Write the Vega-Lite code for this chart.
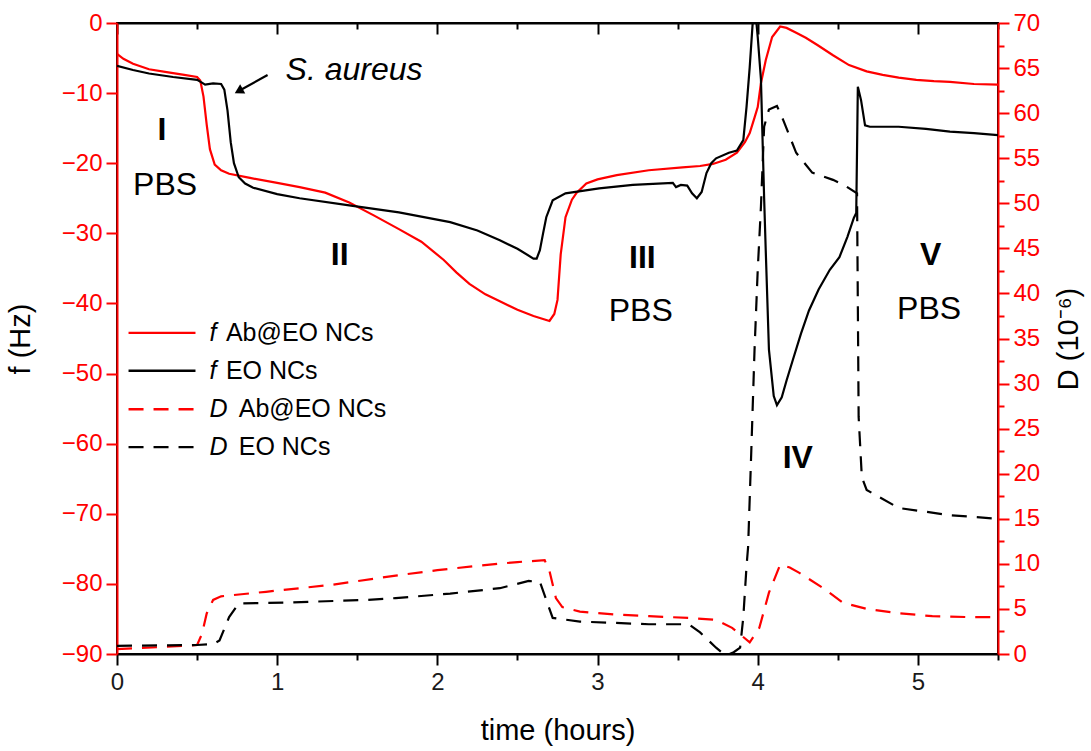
{
  "$schema": "https://vega.github.io/schema/vega-lite/v6.json",
  "width": 881,
  "height": 631,
  "autosize": {"type": "none"},
  "padding": {"left": 117, "top": 23, "right": 93, "bottom": 97},
  "config": {
    "view": {"stroke": "black", "strokeWidth": 2},
    "font": "Liberation Sans",
    "axis": {"labelFont": "Liberation Sans", "titleFont": "Liberation Sans", "grid": false, "ticks": true, "tickOpacity": 1, "labelOverlap": false, "labelFlush": false, "titleFontWeight": "normal"}
  },
  "datasets": {
    "fdata": [
      {"t":0,"f":-4.4,"s":"Ab"},{"t":0.04,"f":-5.1,"s":"Ab"},{"t":0.1,"f":-5.8,"s":"Ab"},{"t":0.2,"f":-6.6,"s":"Ab"},{"t":0.31,"f":-7.0,"s":"Ab"},{"t":0.42,"f":-7.4,"s":"Ab"},{"t":0.5,"f":-7.7,"s":"Ab"},{"t":0.52,"f":-8.2,"s":"Ab"},{"t":0.54,"f":-10.5,"s":"Ab"},{"t":0.56,"f":-14.5,"s":"Ab"},{"t":0.58,"f":-18,"s":"Ab"},{"t":0.61,"f":-20.2,"s":"Ab"},{"t":0.65,"f":-21,"s":"Ab"},{"t":0.7,"f":-21.5,"s":"Ab"},{"t":0.83,"f":-22.1,"s":"Ab"},{"t":1.0,"f":-22.8,"s":"Ab"},{"t":1.14,"f":-23.4,"s":"Ab"},{"t":1.3,"f":-24.2,"s":"Ab"},{"t":1.45,"f":-25.6,"s":"Ab"},{"t":1.6,"f":-27.4,"s":"Ab"},{"t":1.76,"f":-29.4,"s":"Ab"},{"t":1.9,"f":-31.2,"s":"Ab"},{"t":2.04,"f":-33.8,"s":"Ab"},{"t":2.12,"f":-35.6,"s":"Ab"},{"t":2.2,"f":-37.2,"s":"Ab"},{"t":2.3,"f":-38.7,"s":"Ab"},{"t":2.39,"f":-39.7,"s":"Ab"},{"t":2.5,"f":-40.9,"s":"Ab"},{"t":2.6,"f":-41.8,"s":"Ab"},{"t":2.7,"f":-42.5,"s":"Ab"},{"t":2.73,"f":-41.5,"s":"Ab"},{"t":2.75,"f":-39.5,"s":"Ab"},{"t":2.77,"f":-33,"s":"Ab"},{"t":2.8,"f":-27.7,"s":"Ab"},{"t":2.84,"f":-25.2,"s":"Ab"},{"t":2.87,"f":-24.2,"s":"Ab"},{"t":2.93,"f":-22.9,"s":"Ab"},{"t":3.0,"f":-22.3,"s":"Ab"},{"t":3.12,"f":-21.7,"s":"Ab"},{"t":3.32,"f":-21.0,"s":"Ab"},{"t":3.53,"f":-20.6,"s":"Ab"},{"t":3.64,"f":-20.4,"s":"Ab"},{"t":3.72,"f":-20.1,"s":"Ab"},{"t":3.8,"f":-19.5,"s":"Ab"},{"t":3.87,"f":-18.5,"s":"Ab"},{"t":3.92,"f":-17,"s":"Ab"},{"t":3.95,"f":-15.7,"s":"Ab"},{"t":3.98,"f":-13.5,"s":"Ab"},{"t":4.0,"f":-12.0,"s":"Ab"},{"t":4.02,"f":-8.6,"s":"Ab"},{"t":4.05,"f":-5.3,"s":"Ab"},{"t":4.09,"f":-2,"s":"Ab"},{"t":4.14,"f":-0.5,"s":"Ab"},{"t":4.18,"f":-0.7,"s":"Ab"},{"t":4.24,"f":-1.4,"s":"Ab"},{"t":4.3,"f":-2.1,"s":"Ab"},{"t":4.37,"f":-3.1,"s":"Ab"},{"t":4.47,"f":-4.6,"s":"Ab"},{"t":4.57,"f":-6,"s":"Ab"},{"t":4.68,"f":-6.9,"s":"Ab"},{"t":4.78,"f":-7.4,"s":"Ab"},{"t":4.88,"f":-7.8,"s":"Ab"},{"t":4.99,"f":-8.1,"s":"Ab"},{"t":5.1,"f":-8.3,"s":"Ab"},{"t":5.2,"f":-8.4,"s":"Ab"},{"t":5.35,"f":-8.7,"s":"Ab"},{"t":5.5,"f":-8.8,"s":"Ab"},
      {"t":0,"f":-6.1,"s":"EO"},{"t":0.1,"f":-6.7,"s":"EO"},{"t":0.2,"f":-7.2,"s":"EO"},{"t":0.35,"f":-7.7,"s":"EO"},{"t":0.5,"f":-8.1,"s":"EO"},{"t":0.53,"f":-8.5,"s":"EO"},{"t":0.55,"f":-8.8,"s":"EO"},{"t":0.6,"f":-8.6,"s":"EO"},{"t":0.65,"f":-8.7,"s":"EO"},{"t":0.67,"f":-9.5,"s":"EO"},{"t":0.69,"f":-12.5,"s":"EO"},{"t":0.71,"f":-17,"s":"EO"},{"t":0.73,"f":-20,"s":"EO"},{"t":0.76,"f":-22,"s":"EO"},{"t":0.8,"f":-22.9,"s":"EO"},{"t":0.85,"f":-23.5,"s":"EO"},{"t":1.0,"f":-24.4,"s":"EO"},{"t":1.14,"f":-25,"s":"EO"},{"t":1.45,"f":-26,"s":"EO"},{"t":1.76,"f":-27,"s":"EO"},{"t":2.08,"f":-28.4,"s":"EO"},{"t":2.25,"f":-29.6,"s":"EO"},{"t":2.39,"f":-31,"s":"EO"},{"t":2.5,"f":-32.2,"s":"EO"},{"t":2.6,"f":-33.6,"s":"EO"},{"t":2.62,"f":-33.6,"s":"EO"},{"t":2.64,"f":-32.4,"s":"EO"},{"t":2.66,"f":-30,"s":"EO"},{"t":2.68,"f":-27.7,"s":"EO"},{"t":2.72,"f":-25.3,"s":"EO"},{"t":2.8,"f":-24.3,"s":"EO"},{"t":3.01,"f":-23.6,"s":"EO"},{"t":3.22,"f":-23.1,"s":"EO"},{"t":3.47,"f":-22.8,"s":"EO"},{"t":3.49,"f":-23.4,"s":"EO"},{"t":3.52,"f":-23.1,"s":"EO"},{"t":3.56,"f":-23.2,"s":"EO"},{"t":3.59,"f":-24.3,"s":"EO"},{"t":3.62,"f":-25,"s":"EO"},{"t":3.65,"f":-24.1,"s":"EO"},{"t":3.68,"f":-21.4,"s":"EO"},{"t":3.71,"f":-20,"s":"EO"},{"t":3.74,"f":-19.3,"s":"EO"},{"t":3.82,"f":-18.5,"s":"EO"},{"t":3.87,"f":-18.2,"s":"EO"},{"t":3.91,"f":-16.7,"s":"EO"},{"t":3.93,"f":-12,"s":"EO"},{"t":3.95,"f":-6.3,"s":"EO"},{"t":3.97,"f":0.5,"s":"EO"},{"t":3.99,"f":0.5,"s":"EO"},{"t":4.0,"f":-2,"s":"EO"},{"t":4.02,"f":-8,"s":"EO"},{"t":4.04,"f":-25,"s":"EO"},{"t":4.05,"f":-32.4,"s":"EO"},{"t":4.07,"f":-46.6,"s":"EO"},{"t":4.1,"f":-53.2,"s":"EO"},{"t":4.12,"f":-54.5,"s":"EO"},{"t":4.15,"f":-53.4,"s":"EO"},{"t":4.18,"f":-51,"s":"EO"},{"t":4.22,"f":-48,"s":"EO"},{"t":4.27,"f":-44.3,"s":"EO"},{"t":4.32,"f":-41,"s":"EO"},{"t":4.38,"f":-38,"s":"EO"},{"t":4.45,"f":-35.2,"s":"EO"},{"t":4.51,"f":-33.4,"s":"EO"},{"t":4.56,"f":-30.5,"s":"EO"},{"t":4.6,"f":-27.8,"s":"EO"},{"t":4.615,"f":-27.1,"s":"EO"},{"t":4.625,"f":-9.1,"s":"EO"},{"t":4.645,"f":-11,"s":"EO"},{"t":4.67,"f":-14.6,"s":"EO"},{"t":4.7,"f":-14.8,"s":"EO"},{"t":4.88,"f":-14.8,"s":"EO"},{"t":5.05,"f":-15.1,"s":"EO"},{"t":5.2,"f":-15.5,"s":"EO"},{"t":5.35,"f":-15.7,"s":"EO"},{"t":5.5,"f":-16,"s":"EO"}
    ],
    "ddata": [
      {"t":0,"D":0.55,"s":"Ab"},{"t":0.31,"D":0.8,"s":"Ab"},{"t":0.5,"D":1.0,"s":"Ab"},{"t":0.53,"D":2.2,"s":"Ab"},{"t":0.56,"D":4.5,"s":"Ab"},{"t":0.6,"D":6.0,"s":"Ab"},{"t":0.65,"D":6.4,"s":"Ab"},{"t":0.93,"D":6.9,"s":"Ab"},{"t":1.35,"D":7.7,"s":"Ab"},{"t":1.74,"D":8.7,"s":"Ab"},{"t":2.0,"D":9.3,"s":"Ab"},{"t":2.26,"D":9.8,"s":"Ab"},{"t":2.5,"D":10.2,"s":"Ab"},{"t":2.67,"D":10.4,"s":"Ab"},{"t":2.7,"D":9.2,"s":"Ab"},{"t":2.74,"D":6.2,"s":"Ab"},{"t":2.78,"D":5.2,"s":"Ab"},{"t":2.89,"D":4.7,"s":"Ab"},{"t":3.1,"D":4.4,"s":"Ab"},{"t":3.32,"D":4.2,"s":"Ab"},{"t":3.57,"D":4.0,"s":"Ab"},{"t":3.74,"D":3.8,"s":"Ab"},{"t":3.84,"D":2.9,"s":"Ab"},{"t":3.95,"D":1.3,"s":"Ab"},{"t":4.01,"D":2.9,"s":"Ab"},{"t":4.07,"D":6.8,"s":"Ab"},{"t":4.14,"D":9.9,"s":"Ab"},{"t":4.2,"D":9.6,"s":"Ab"},{"t":4.26,"D":9.0,"s":"Ab"},{"t":4.41,"D":7.3,"s":"Ab"},{"t":4.53,"D":5.7,"s":"Ab"},{"t":4.68,"D":5.0,"s":"Ab"},{"t":4.89,"D":4.5,"s":"Ab"},{"t":5.09,"D":4.2,"s":"Ab"},{"t":5.3,"D":4.1,"s":"Ab"},{"t":5.5,"D":4.1,"s":"Ab"},
      {"t":0,"D":0.9,"s":"EO"},{"t":0.5,"D":1.0,"s":"EO"},{"t":0.6,"D":1.1,"s":"EO"},{"t":0.64,"D":1.5,"s":"EO"},{"t":0.7,"D":4.1,"s":"EO"},{"t":0.76,"D":5.6,"s":"EO"},{"t":1.04,"D":5.7,"s":"EO"},{"t":1.56,"D":6.0,"s":"EO"},{"t":1.74,"D":6.2,"s":"EO"},{"t":2.08,"D":6.7,"s":"EO"},{"t":2.39,"D":7.3,"s":"EO"},{"t":2.57,"D":8.1,"s":"EO"},{"t":2.64,"D":8.0,"s":"EO"},{"t":2.68,"D":6.0,"s":"EO"},{"t":2.72,"D":4.0,"s":"EO"},{"t":2.89,"D":3.6,"s":"EO"},{"t":3.32,"D":3.3,"s":"EO"},{"t":3.57,"D":3.3,"s":"EO"},{"t":3.64,"D":2.4,"s":"EO"},{"t":3.74,"D":0.7,"s":"EO"},{"t":3.8,"D":-0.2,"s":"EO"},{"t":3.85,"D":0.2,"s":"EO"},{"t":3.89,"D":0.7,"s":"EO"},{"t":3.91,"D":4.1,"s":"EO"},{"t":3.93,"D":9.7,"s":"EO"},{"t":3.94,"D":11.9,"s":"EO"},{"t":3.96,"D":22.6,"s":"EO"},{"t":3.98,"D":33.7,"s":"EO"},{"t":4.0,"D":42.6,"s":"EO"},{"t":4.02,"D":49.6,"s":"EO"},{"t":4.04,"D":58.5,"s":"EO"},{"t":4.07,"D":60.4,"s":"EO"},{"t":4.12,"D":60.8,"s":"EO"},{"t":4.16,"D":59.2,"s":"EO"},{"t":4.24,"D":55.6,"s":"EO"},{"t":4.34,"D":53.4,"s":"EO"},{"t":4.47,"D":52.6,"s":"EO"},{"t":4.55,"D":51.9,"s":"EO"},{"t":4.62,"D":51.1,"s":"EO"},{"t":4.63,"D":26.3,"s":"EO"},{"t":4.65,"D":19.6,"s":"EO"},{"t":4.68,"D":18.2,"s":"EO"},{"t":4.88,"D":16.2,"s":"EO"},{"t":5.2,"D":15.4,"s":"EO"},{"t":5.5,"D":15.0,"s":"EO"}
    ],
    "notes": [
      {"t":0.28,"f":-15.3,"text":"I","kind":"num"},
      {"t":0.30,"f":-23.1,"text":"PBS","kind":"txt"},
      {"t":1.39,"f":-33.1,"text":"II","kind":"num"},
      {"t":3.28,"f":-33.5,"text":"III","kind":"num"},
      {"t":3.27,"f":-41.1,"text":"PBS","kind":"txt"},
      {"t":4.25,"f":-62,"text":"IV","kind":"num"},
      {"t":5.08,"f":-33.1,"text":"V","kind":"num"},
      {"t":5.07,"f":-40.8,"text":"PBS","kind":"txt"},
      {"t":1.48,"f":-6.7,"text":"S. aureus","kind":"ital"}
    ],
    "arrow": [
      {"t":0.94,"f":-7.42,"t2":0.76,"f2":-9.71}
    ],
    "leg": [
      {"t1":0.072,"t2":0.49,"f":-44.2,"s":"Ab","m":"f","sym":"f","lab":"Ab@EO NCs","ts":0.577,"tl":0.68},
      {"t1":0.072,"t2":0.49,"f":-49.6,"s":"EO","m":"f","sym":"f","lab":"EO NCs","ts":0.577,"tl":0.68},
      {"t1":0.072,"t2":0.49,"f":-55.1,"s":"Ab","m":"D","sym":"D","lab":"Ab@EO NCs","ts":0.577,"tl":0.76},
      {"t1":0.072,"t2":0.49,"f":-60.5,"s":"EO","m":"D","sym":"D","lab":"EO NCs","ts":0.577,"tl":0.76}
    ]
  },
  "layer": [
    {
      "layer": [
        {
          "data": {"name": "fdata"},
          "mark": {"type": "line", "strokeWidth": 2.2, "clip": true},
          "encoding": {
            "x": {"field": "t", "type": "quantitative",
              "scale": {"domain": [0, 5.5], "nice": false, "zero": false},
              "axis": {"orient": "bottom", "title": "time (hours)", "format": "~g",
                "values": [0,0.5,1,1.5,2,2.5,3,3.5,4,4.5,5,5.5],
                "labelExpr": "datum.value % 1 === 0 ? datum.label : ''",
                "ticks": true, "tickSize": 11,
                "tickDash": {"condition": {"test": "datum.value % 1 !== 0", "value": [6, 30]}, "value": [11, 0]},
                "tickColor": "black", "tickWidth": 2, "domainColor": "black", "domainWidth": 2,
                "labelFontSize": 24, "labelColor": "#1a1a1a", "labelPadding": 5,
                "titleFontSize": 29, "titleColor": "black", "titlePadding": 22}},
            "y": {"field": "f", "type": "quantitative",
              "scale": {"domain": [-90, 0], "nice": false, "zero": false},
              "axis": {"orient": "left", "title": "f (Hz)",
                "values": [-90,-85,-80,-75,-70,-65,-60,-55,-50,-45,-40,-35,-30,-25,-20,-15,-10,-5,0],
                "labelExpr": "datum.value % 10 === 0 ? datum.label : ''",
                "ticks": true, "tickSize": 11,
                "tickDash": {"condition": {"test": "datum.value % 10 !== 0", "value": [6, 30]}, "value": [11, 0]},
                "tickColor": "#ff0000", "tickWidth": 2, "domainColor": "#ff0000", "domainWidth": 2,
                "labelFontSize": 24, "labelColor": "#ff0000", "labelPadding": 4,
                "titleFontSize": 29, "titleColor": "black", "titlePadding": 26}},
            "color": {"field": "s", "type": "nominal", "scale": {"domain": ["Ab", "EO"], "range": ["#ff0000", "#000000"]}, "legend": null}
          }
        },
        {
          "data": {"name": "notes"},
          "transform": [{"filter": "datum.kind === 'num'"}],
          "mark": {"type": "text", "fontSize": 32, "fontWeight": "bold", "baseline": "middle", "align": "center", "color": "black"},
          "encoding": {"x": {"field": "t", "type": "quantitative"}, "y": {"field": "f", "type": "quantitative"}, "text": {"field": "text"}}
        },
        {
          "data": {"name": "notes"},
          "transform": [{"filter": "datum.kind === 'txt'"}],
          "mark": {"type": "text", "fontSize": 32, "baseline": "middle", "align": "center", "color": "black"},
          "encoding": {"x": {"field": "t", "type": "quantitative"}, "y": {"field": "f", "type": "quantitative"}, "text": {"field": "text"}}
        },
        {
          "data": {"name": "notes"},
          "transform": [{"filter": "datum.kind === 'ital'"}],
          "mark": {"type": "text", "fontSize": 32, "fontStyle": "italic", "baseline": "middle", "align": "center", "color": "black"},
          "encoding": {"x": {"field": "t", "type": "quantitative"}, "y": {"field": "f", "type": "quantitative"}, "text": {"field": "text"}}
        },
        {
          "data": {"name": "arrow"},
          "mark": {"type": "rule", "strokeWidth": 2.2, "color": "black"},
          "encoding": {"x": {"field": "t", "type": "quantitative"}, "y": {"field": "f", "type": "quantitative"}, "x2": {"field": "t2"}, "y2": {"field": "f2"}}
        },
        {
          "data": {"name": "arrow"},
          "mark": {"type": "point", "shape": "triangle-up", "angle": 241, "size": 110, "filled": true, "color": "black", "opacity": 1},
          "encoding": {"x": {"field": "t2", "type": "quantitative"}, "y": {"field": "f2", "type": "quantitative"}}
        },
        {
          "data": {"name": "leg"},
          "mark": {"type": "rule", "strokeWidth": 2.4},
          "encoding": {
            "x": {"field": "t1", "type": "quantitative"}, "x2": {"field": "t2"},
            "y": {"field": "f", "type": "quantitative"},
            "color": {"field": "s", "type": "nominal", "legend": null},
            "strokeDash": {"field": "m", "type": "nominal", "scale": {"domain": ["f", "D"], "range": [[1, 0], [15, 10]]}, "legend": null}
          }
        },
        {
          "data": {"name": "leg"},
          "mark": {"type": "text", "fontSize": 25, "fontStyle": "italic", "align": "left", "baseline": "middle", "color": "black"},
          "encoding": {"x": {"field": "ts", "type": "quantitative"}, "y": {"field": "f", "type": "quantitative"}, "text": {"field": "sym"}}
        },
        {
          "data": {"name": "leg"},
          "mark": {"type": "text", "fontSize": 25, "align": "left", "baseline": "middle", "color": "black"},
          "encoding": {"x": {"field": "tl", "type": "quantitative"}, "y": {"field": "f", "type": "quantitative"}, "text": {"field": "lab"}}
        }
      ]
    },
    {
      "layer": [
        {
          "data": {"name": "ddata"},
          "mark": {"type": "line", "strokeWidth": 2.2, "strokeDash": [15, 10], "clip": true},
          "encoding": {
            "x": {"field": "t", "type": "quantitative",
              "scale": {"domain": [0, 5.5], "nice": false, "zero": false},
              "axis": {"orient": "top", "title": null, "labels": false,
                "values": [0,0.5,1,1.5,2,2.5,3,3.5,4,4.5,5,5.5],
                "ticks": true, "tickSize": -11,
                "tickDash": {"condition": {"test": "datum.value % 1 !== 0", "value": [6, 30]}, "value": [11, 0]},
                "tickColor": "black", "tickWidth": 2, "domainColor": "black", "domainWidth": 2}},
            "y": {"field": "D", "type": "quantitative",
              "scale": {"domain": [0, 70], "nice": false, "zero": false},
              "axis": {"orient": "right", "title": "D (10⁻⁶)",
                "values": [0,2.5,5,7.5,10,12.5,15,17.5,20,22.5,25,27.5,30,32.5,35,37.5,40,42.5,45,47.5,50,52.5,55,57.5,60,62.5,65,67.5,70],
                "labelExpr": "datum.value % 5 === 0 ? datum.label : ''",
                "ticks": true, "tickSize": 11,
                "tickDash": {"condition": {"test": "datum.value % 5 !== 0", "value": [6, 30]}, "value": [11, 0]},
                "tickColor": "#ff0000", "tickWidth": 2, "domainColor": "#ff0000", "domainWidth": 2,
                "labelFontSize": 24, "labelColor": "#ff0000", "labelPadding": 4,
                "titleFontSize": 29, "titleColor": "black", "titleAngle": 270, "titlePadding": 44}},
            "color": {"field": "s", "type": "nominal", "legend": null}
          }
        }
      ]
    }
  ],
  "resolve": {"scale": {"y": "independent"}, "axis": {"x": "independent"}}
}
